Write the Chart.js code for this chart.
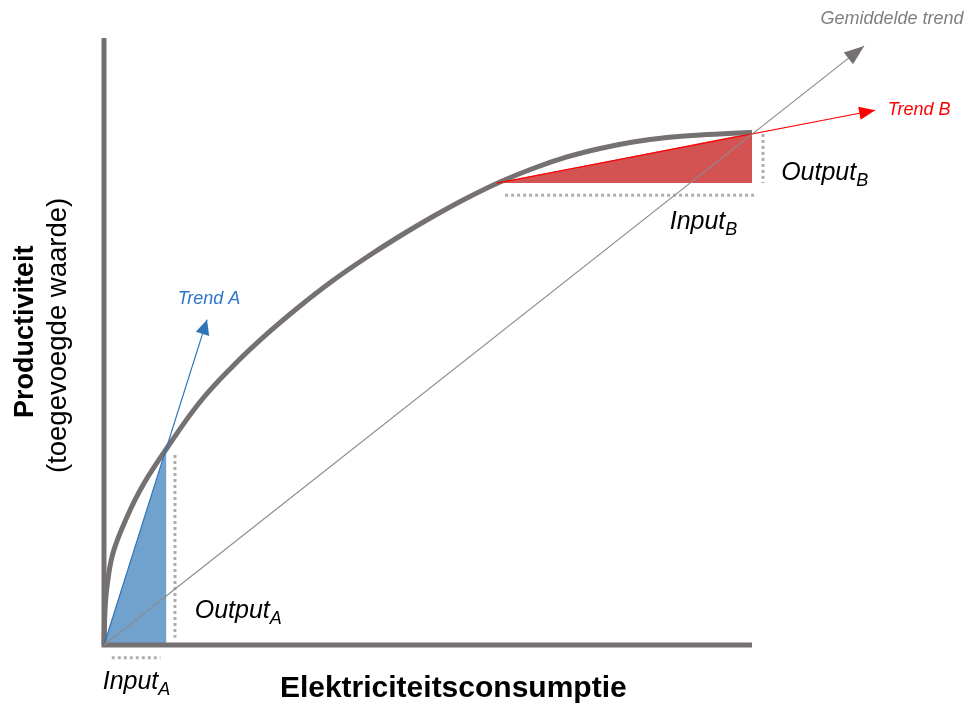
<!DOCTYPE html>
<html>
<head>
<meta charset="utf-8">
<script src="https://cdn.jsdelivr.net/npm/chart.js@4/dist/chart.umd.min.js"></script>
<style>
  html, body { margin: 0; padding: 0; background: #fff; }
  #wrap { width: 967px; height: 704px; position: relative; }
</style>
</head>
<body>
<div id="wrap"><canvas id="chart"></canvas></div>
<script>
// productiviteitscurve: input (x) tegen output (y)
const curveX = [0, 0.15, 0.46, 1.39, 3.55, 6.02, 9.72, 14.81, 19.91, 25.15, 30.25, 35.34, 40.59, 45.68, 50.77, 56.02, 61.11, 66.2, 71.45, 76.54, 81.64, 86.88, 91.98, 97.07, 100];
const curveY = [0, 5.6, 9.56, 15.16, 21.09, 26.36, 32.45, 40.03, 45.96, 51.24, 55.85, 60.05, 63.92, 67.38, 70.59, 73.64, 76.28, 78.5, 80.4, 81.8, 82.87, 83.61, 84.02, 84.32, 84.43];

// driehoek A (kleine input) en driehoek B (grote input)
const triAX = [0, 9.6, 9.6, 0];
const triAY = [0, 32.2, 0, 0];
const triBX = [60.6, 100, 100, 60.6];
const triBY = [76.1, 84.4, 76.1, 76.1];

// trendpijlen: start en punt
const trendAX = [0, 15.9];
const trendAY = [0, 53.6];
const trendBX = [60.6, 119.0];
const trendBY = [76.1, 88.1];
const avgX = [0, 117.3];
const avgY = [0, 98.7];

// assen
const axisX = [0, 0, 100];
const axisY = [100, 0, 0];

// stippellijnen input/output
const outAX = [10.95, 10.95];
const outAY = [31.3, 1.2];
const inAX = [1.2, 8.7];
const inAY = [-2.1, -2.1];
const outBX = [101.7, 101.7];
const outBY = [84.2, 76.1];
const inBX = [61.9, 100.8];
const inBY = [74.1, 74.1];

const labels = {
  xTitle: 'Elektriciteitsconsumptie',
  yTitle: 'Productiviteit',
  ySub: '(toegevoegde waarde)',
  trendA: 'Trend A',
  trendB: 'Trend B',
  avg: 'Gemiddelde trend'
};

const pts = (xs, ys) => xs.map((x, i) => ({ x: x, y: ys[i] }));
const FONT = "'Liberation Sans', Arial, sans-serif";

const dotted = {
  borderColor: '#b0adad', borderWidth: 3, borderDash: [3, 3],
  pointRadius: 0, fill: false, order: 4
};

const arrowHeads = {
  id: 'arrowHeads',
  afterDatasetsDraw(chart) {
    const ctx = chart.ctx;
    chart.data.datasets.forEach((ds, i) => {
      if (!ds.arrow) return;
      const pts = chart.getDatasetMeta(i).data;
      const a = pts[pts.length - 2], b = pts[pts.length - 1];
      const ang = Math.atan2(b.y - a.y, b.x - a.x);
      const L = ds.arrow.len, W = ds.arrow.width / 2;
      ctx.save();
      ctx.translate(b.x, b.y);
      ctx.rotate(ang);
      ctx.beginPath();
      ctx.moveTo(0, 0);
      ctx.lineTo(-L, -W);
      ctx.lineTo(-L, W);
      ctx.closePath();
      ctx.fillStyle = ds.arrow.color;
      ctx.fill();
      ctx.restore();
    });
  }
};

function subText(ctx, x, y, main, sub, size) {
  ctx.font = 'italic ' + size + 'px ' + FONT;
  ctx.textAlign = 'left';
  ctx.textBaseline = 'middle';
  ctx.fillText(main, x, y);
  const w = ctx.measureText(main).width;
  ctx.font = 'italic ' + Math.round(size * 0.7) + 'px ' + FONT;
  ctx.fillText(sub, x + w, y + size * 0.32);
}

const textLayer = {
  id: 'textLayer',
  afterDraw(chart) {
    const ctx = chart.ctx;
    const sx = chart.scales.x, sy = chart.scales.y;
    const X = v => sx.getPixelForValue(v), Y = v => sy.getPixelForValue(v);
    ctx.save();
    ctx.fillStyle = '#000';
    subText(ctx, X(14.0), Y(5.6), 'Output', 'A', 25);
    subText(ctx, X(-0.2), Y(-6.1), 'Input', 'A', 25);
    subText(ctx, X(104.5), Y(77.8), 'Output', 'B', 25);
    subText(ctx, X(87.3), Y(69.7), 'Input', 'B', 25);

    ctx.textAlign = 'center';
    ctx.textBaseline = 'middle';
    ctx.font = 'italic 18px ' + FONT;
    ctx.fillStyle = '#2e75c6';
    ctx.fillText(labels.trendA, X(16.2), Y(57.0));
    ctx.fillStyle = '#ff0000';
    ctx.fillText(labels.trendB, X(125.8), Y(88.1));
    ctx.fillStyle = '#7f7f7f';
    ctx.fillText(labels.avg, X(121.6), Y(103.1));

    ctx.fillStyle = '#000';
    ctx.font = 'bold 30px ' + FONT;
    ctx.fillText(labels.xTitle, X(53.9), Y(-7.25));

    // y-as titel, twee regels, gedraaid
    ctx.textBaseline = 'alphabetic';
    ctx.save();
    ctx.translate(X(-10.95), Y(51.6));
    ctx.rotate(-Math.PI / 2);
    ctx.font = 'bold 27px ' + FONT;
    ctx.fillText(labels.yTitle, 0, 0);
    ctx.restore();
    ctx.save();
    ctx.translate(X(-5.9), Y(51.0));
    ctx.rotate(-Math.PI / 2);
    ctx.font = '27.5px ' + FONT;
    ctx.fillText(labels.ySub, 0, 0);
    ctx.restore();
    ctx.restore();
  }
};

new Chart(document.getElementById('chart').getContext('2d'), {
  type: 'line',
  data: {
    datasets: [
      { data: pts(triAX, triAY), backgroundColor: 'rgba(46,117,182,0.68)', borderWidth: 0, fill: 'shape', pointRadius: 0, tension: 0, order: 6 },
      { data: pts(triBX, triBY), backgroundColor: 'rgba(200,40,40,0.8)', borderWidth: 0, fill: 'shape', pointRadius: 0, tension: 0, order: 6 },
      Object.assign({ data: pts(outAX, outAY) }, dotted),
      Object.assign({ data: pts(inAX, inAY) }, dotted),
      Object.assign({ data: pts(outBX, outBY) }, dotted),
      Object.assign({ data: pts(inBX, inBY) }, dotted),
      { data: pts(axisX, axisY), borderColor: '#767171', borderWidth: 5, pointRadius: 0, fill: false, tension: 0, order: 3, borderJoinStyle: 'miter' },
      { data: pts(curveX, curveY), borderColor: '#767171', borderWidth: 5, pointRadius: 0, fill: false, tension: 0.4, order: 2 },
      { data: pts(avgX, avgY), borderColor: '#8c8c8c', borderWidth: 1.2, pointRadius: 0, fill: false, order: 1,
        arrow: { len: 20, width: 15, color: '#767171' } },
      { data: pts(trendAX, trendAY), borderColor: '#2e75b6', borderWidth: 1.2, pointRadius: 0, fill: false, order: 1,
        arrow: { len: 15, width: 14, color: '#2e75b6' } },
      { data: pts(trendBX, trendBY), borderColor: '#ff0000', borderWidth: 1.2, pointRadius: 0, fill: false, order: 1,
        arrow: { len: 16, width: 13, color: '#ff0000' } }
    ]
  },
  options: {
    responsive: true,
    maintainAspectRatio: false,
    animation: false,
    layout: { padding: 0 },
    plugins: { legend: { display: false }, tooltip: { enabled: false } },
    scales: {
      x: { type: 'linear', min: -16.05, max: 133.18, display: false },
      y: { type: 'linear', min: -9.72, max: 106.26, display: false }
    }
  },
  plugins: [arrowHeads, textLayer]
});
</script>
</body>
</html>
